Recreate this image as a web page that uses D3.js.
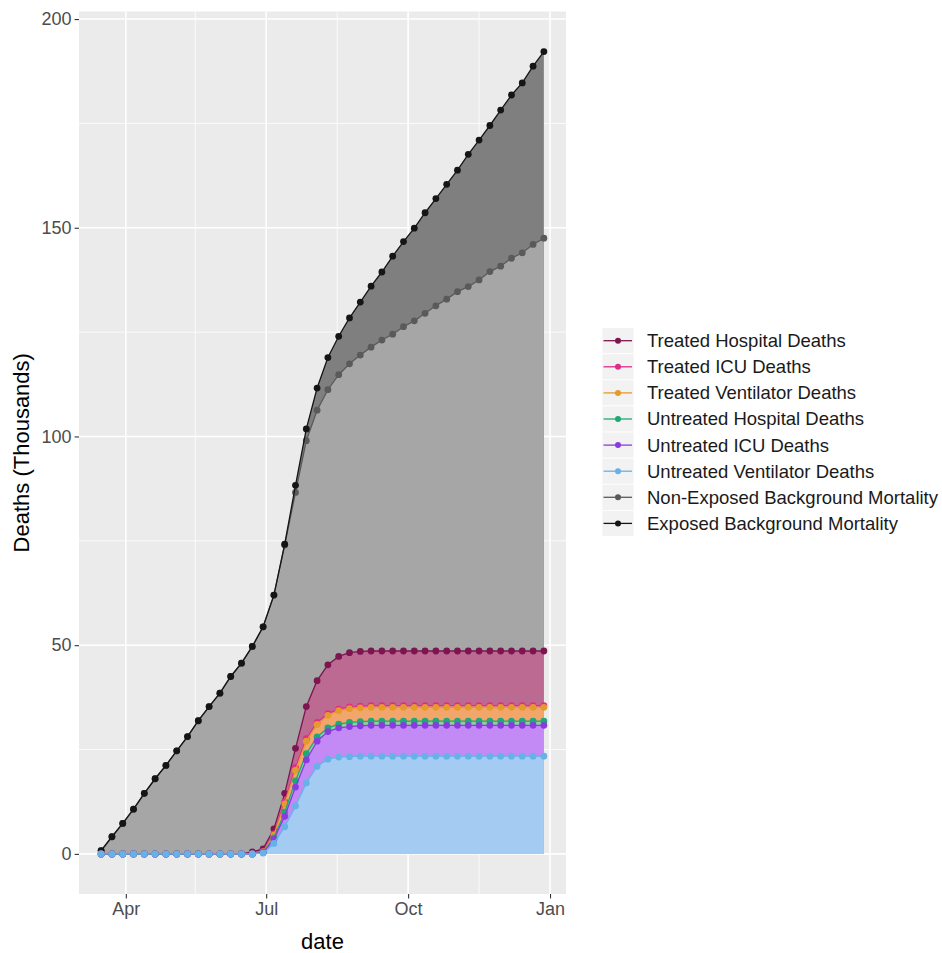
<!DOCTYPE html>
<html><head><meta charset="utf-8">
<script src="https://cdn.jsdelivr.net/npm/d3@7"></script>
<style>body{margin:0;background:#fff} svg{display:block}</style>
</head><body>
<svg id="c" width="942" height="953"></svg>
<script>
// ---- data ----
const dates = ["2020-03-16","2020-03-23","2020-03-30","2020-04-06","2020-04-13","2020-04-20","2020-04-27",
"2020-05-04","2020-05-11","2020-05-18","2020-05-25","2020-06-01","2020-06-08","2020-06-15","2020-06-22",
"2020-06-29","2020-07-06","2020-07-13","2020-07-20","2020-07-27","2020-08-03","2020-08-10","2020-08-17",
"2020-08-24","2020-08-31","2020-09-07","2020-09-14","2020-09-21","2020-09-28","2020-10-05","2020-10-12",
"2020-10-19","2020-10-26","2020-11-02","2020-11-09","2020-11-16","2020-11-23","2020-11-30","2020-12-07",
"2020-12-14","2020-12-21","2020-12-28"];

const exposedBackground = [0.8,4.1,7.3,10.7,14.5,18.0,21.2,24.7,28.1,31.9,35.3,38.5,42.5,45.7,49.7,54.4,62.0,74.2,88.3,101.8,
111.6,118.9,124.0,128.4,132.2,136.0,139.4,143.2,146.7,149.9,153.6,157.0,160.4,163.8,167.6,171.0,174.5,178.2,181.8,184.7,188.7,192.2];
const nonExposedBackground = [0.8,4.1,7.3,10.7,14.5,18.0,21.2,24.7,28.1,31.9,35.3,38.5,42.5,45.7,49.7,54.4,62.0,74.0,86.6,99.0,
106.3,111.2,114.8,117.4,119.5,121.4,123.1,124.5,126.3,127.7,129.5,131.3,132.9,134.7,135.9,137.5,139.5,140.8,142.7,144.0,146.0,147.5];
const treatedHospital = [0,0,0,0,0,0,0,0,0,0,0,0,0,0,0.5,1.2,6.0,14.5,25.3,35.3,41.5,45.3,47.3,48.2,48.5,
48.6,48.6,48.6,48.6,48.6,48.6,48.6,48.6,48.6,48.6,48.6,48.6,48.6,48.6,48.6,48.6,48.6];
const treatedICU = [0,0,0,0,0,0,0,0,0,0,0,0,0,0,0,0.6,4.8,12.5,20.7,27.6,31.5,33.6,34.7,35.2,35.4,
35.5,35.5,35.5,35.5,35.5,35.5,35.5,35.5,35.5,35.5,35.5,35.5,35.5,35.5,35.5,35.5,35.5];
const treatedVentilator = [0,0,0,0,0,0,0,0,0,0,0,0,0,0,0,0.5,4.5,12.0,20.0,27.0,31.0,33.2,34.3,34.8,35.0,
35.1,35.1,35.1,35.1,35.1,35.1,35.1,35.1,35.1,35.1,35.1,35.1,35.1,35.1,35.1,35.1,35.1];
const untreatedHospital = [0,0,0,0,0,0,0,0,0,0,0,0,0,0,0,0.4,3.8,10.0,17.5,24.0,28.0,30.2,31.1,31.5,31.7,
31.8,31.8,31.8,31.8,31.8,31.8,31.8,31.8,31.8,31.8,31.8,31.8,31.8,31.8,31.8,31.8,31.8];
const untreatedICU = [0,0,0,0,0,0,0,0,0,0,0,0,0,0,0,0.3,3.5,9.0,16.0,22.5,27.0,29.3,30.2,30.5,30.7,
30.8,30.8,30.8,30.8,30.8,30.8,30.8,30.8,30.8,30.8,30.8,30.8,30.8,30.8,30.8,30.8,30.8];
const untreatedVentilator = [0,0,0,0,0,0,0,0,0,0,0,0,0,0,0,0.2,2.5,6.5,11.5,17.0,21.0,22.7,23.2,23.3,23.4,
23.4,23.4,23.4,23.4,23.4,23.4,23.4,23.4,23.4,23.4,23.4,23.4,23.4,23.4,23.4,23.4,23.4];

const legendLabels = ["Treated Hospital Deaths","Treated ICU Deaths","Treated Ventilator Deaths","Untreated Hospital Deaths",
"Untreated ICU Deaths","Untreated Ventilator Deaths","Non-Exposed Background Mortality","Exposed Background Mortality"];
const lineColors = ["#7d1650","#e02c8a","#e39b2a","#1fa874","#8a3be0","#66b2e8","#5a5a5a","#151515"];
const fillColors = ["#bd6a93","#e57fae","#f3a66c","#8fcfa0","#c38af5","#a4cbf2","#a6a6a6","#7f7f7f"];
const seriesValues = [treatedHospital,treatedICU,treatedVentilator,untreatedHospital,untreatedICU,untreatedVentilator,
nonExposedBackground,exposedBackground];

const xTickDates = ["2020-04-01","2020-07-01","2020-10-01","2021-01-01"];
const xTickLabels = ["Apr","Jul","Oct","Jan"];
const xMinorDates = ["2020-05-16","2020-08-16","2020-11-16"];
const yTicks = [0,50,100,150,200];
const yMinorTicks = [25,75,125,175];

// ---- chart ----
const FONT = "'Liberation Sans', Arial, sans-serif";
const svg = d3.select("#c");
const P = {left:79, right:566, top:11.5, bottom:894};
const parse = d3.utcParse("%Y-%m-%d");
const dts = dates.map(parse);
const dMin = d3.min(dts), dMax = d3.max(dts);
const span = dMax - dMin;
const x = d3.scaleUtc().domain([new Date(+dMin - 0.05*span), new Date(+dMax + 0.05*span)]).range([P.left, P.right]);
const yMax = d3.max(exposedBackground);
const y = d3.scaleLinear().domain([-0.05*yMax, yMax*1.05]).range([P.bottom, P.top]);

svg.append("rect").attr("x",P.left).attr("y",P.top).attr("width",P.right-P.left).attr("height",P.bottom-P.top).attr("fill","#ebebeb");
const grid = svg.append("g");
yMinorTicks.forEach(v=>grid.append("line").attr("x1",P.left).attr("x2",P.right).attr("y1",y(v)).attr("y2",y(v)).attr("stroke","#fff").attr("stroke-width",0.8));
xMinorDates.map(parse).forEach(d=>grid.append("line").attr("y1",P.top).attr("y2",P.bottom).attr("x1",x(d)).attr("x2",x(d)).attr("stroke","#fff").attr("stroke-width",0.8));
yTicks.forEach(v=>grid.append("line").attr("x1",P.left).attr("x2",P.right).attr("y1",y(v)).attr("y2",y(v)).attr("stroke","#fff").attr("stroke-width",1.6));
xTickDates.map(parse).forEach(d=>grid.append("line").attr("y1",P.top).attr("y2",P.bottom).attr("x1",x(d)).attr("x2",x(d)).attr("stroke","#fff").attr("stroke-width",1.6));

// areas: largest first
const areaOrder = [7,6,0,1,2,3,4,5];
const area = d3.area().x((d,i)=>x(dts[i])).y0(y(0)).y1(d=>y(d));
const line = d3.line().x((d,i)=>x(dts[i])).y(d=>y(d));
areaOrder.forEach(si=>{
  svg.append("path").datum(seriesValues[si]).attr("d",area).attr("fill",fillColors[si]);
});
// lines & points
const lineOrder = [6,7,0,1,2,3,4,5];
lineOrder.forEach(si=>{
  const g = svg.append("g");
  g.append("path").datum(seriesValues[si]).attr("d",line).attr("fill","none").attr("stroke",lineColors[si]).attr("stroke-width",1.3);
  g.selectAll("circle").data(seriesValues[si]).join("circle")
    .attr("cx",(d,i)=>x(dts[i])).attr("cy",d=>y(d)).attr("r",3.4).attr("fill",lineColors[si]);
});

// axes
const yAxis = d3.axisLeft(y).tickValues(yTicks).tickSize(4.4).tickPadding(3);
const ga = svg.append("g").attr("transform",`translate(${P.left},0)`).call(yAxis);
const xAxis = d3.axisBottom(x).tickValues(xTickDates.map(parse)).tickFormat((d,i)=>xTickLabels[i]).tickSize(4.4).tickPadding(4);
const gx = svg.append("g").attr("transform",`translate(0,${P.bottom})`).call(xAxis);
[ga,gx].forEach(g=>{
  g.select(".domain").remove();
  g.selectAll(".tick line").attr("stroke","#333").attr("stroke-width",1.1);
  g.selectAll(".tick text").attr("fill","#4d4d4d").style("font-family",FONT).style("font-size","18px");
});
gx.selectAll(".tick text").attr("dy","0.71em");

svg.append("text").attr("x",(P.left+P.right)/2).attr("y",949).attr("text-anchor","middle")
  .style("font-family",FONT).style("font-size","22px").attr("fill","#000").text("date");
svg.append("text").attr("transform",`translate(29,${(P.top+P.bottom)/2}) rotate(-90)`).attr("text-anchor","middle")
  .style("font-family",FONT).style("font-size","22px").attr("fill","#000").text("Deaths (Thousands)");

// legend
const lg = svg.append("g");
const keyX = 602, keyW = 32, rowH = 26.1, firstY = 340.7;
legendLabels.forEach((lab,i)=>{
  const cy = firstY + i*rowH;
  lg.append("rect").attr("x",keyX).attr("y",cy-rowH/2).attr("width",keyW).attr("height",rowH).attr("fill","#f2f2f2").attr("stroke","#fff").attr("stroke-width",0.8);
  lg.append("line").attr("x1",keyX+1.5).attr("x2",keyX+keyW-2).attr("y1",cy).attr("y2",cy).attr("stroke",lineColors[i]).attr("stroke-width",1.3);
  lg.append("circle").attr("cx",keyX+keyW/2).attr("cy",cy).attr("r",3).attr("fill",lineColors[i]);
  lg.append("text").attr("x",647).attr("y",cy).attr("dy","0.35em").style("font-family",FONT).style("font-size","18.5px").attr("fill","#1a1a1a").text(lab);
});
</script>
</body></html>
